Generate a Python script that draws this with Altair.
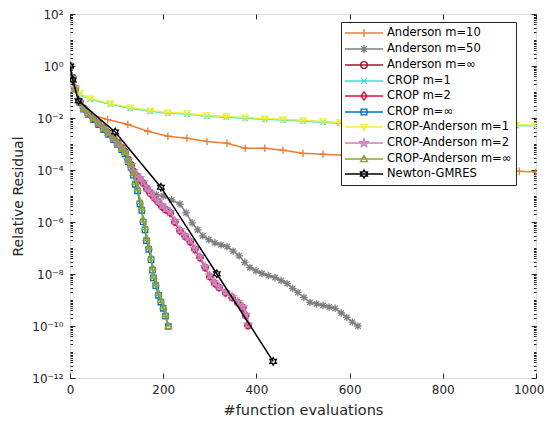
import altair as alt
import pandas as pd
import numpy as np

names = ["Anderson m=10", "Anderson m=50", "Anderson m=\u221e", "CROP m=1", "CROP m=2",
         "CROP m=\u221e", "CROP-Anderson m=1", "CROP-Anderson m=2", "CROP-Anderson m=\u221e",
         "Newton-GMRES"]
colors = ["#ED7D31", "#7F7F7F", "#A2142F", "#40E0D0", "#DC143C",
          "#0072BD", "#F2EE3A", "#C983C0", "#8CA33A", "#000000"]

# log10(relative residual)
and10_x = [0, 6, 12, 21, 30, 43, 81, 124, 167, 210, 251, 294, 337, 376, 418, 457, 500, 543,
           586, 628, 670, 712, 754, 796, 838, 880, 922, 964, 1000]
and10_e = [0, -0.5, -0.88, -1.37, -1.62, -1.86, -2.06, -2.25, -2.51, -2.70, -2.78, -2.90, -2.97,
           -3.16, -3.16, -3.24, -3.36, -3.39, -3.43, -3.50, -3.56, -3.63, -3.70, -3.78, -3.86,
           -3.93, -3.99, -4.05, -4.08]

and50_x = [0, 5, 11, 21, 29, 39, 50, 61, 72, 82, 93, 102, 111, 118, 125, 131, 136, 143, 150,
           157, 165, 172, 185, 200, 218, 236, 249, 262, 274, 285, 298, 311, 324, 337, 350, 363,
           375, 386, 399, 412, 426, 440, 453, 466, 478, 489, 502, 515, 529, 543, 556, 569, 582,
           594, 606, 618]
and50_e = [0, -0.45, -0.86, -1.37, -1.62, -1.81, -2.00, -2.20, -2.39, -2.57, -2.77, -2.95,
           -3.15, -3.30, -3.60, -3.80, -4.05, -4.23, -4.35, -4.50, -4.72, -4.85, -4.95, -5.00,
           -5.15, -5.31, -5.65, -6.03, -6.30, -6.53, -6.68, -6.80, -6.88, -6.95, -7.12, -7.30,
           -7.55, -7.75, -7.88, -7.98, -8.06, -8.14, -8.25, -8.37, -8.55, -8.71, -8.90, -9.09,
           -9.15, -9.21, -9.27, -9.32, -9.50, -9.67, -9.85, -10.0]

med_x = [0, 5, 11, 21, 29, 39, 50, 61, 72, 82, 93, 102, 111, 118, 125, 131, 136, 143, 150, 157,
         165, 172, 180, 189, 197, 205, 215, 225, 236, 247, 258, 268, 279, 290, 300, 310, 320,
         334, 348, 360, 371, 377, 382]
crop2_e = [0, -0.45, -0.86, -1.37, -1.62, -1.81, -2.00, -2.20, -2.39, -2.57, -2.77, -2.95,
           -3.15, -3.30, -3.60, -3.80, -4.05, -4.23, -4.35, -4.50, -4.72, -4.89, -5.05, -5.23,
           -5.40, -5.52, -5.65, -6.00, -6.34, -6.55, -6.76, -7.05, -7.37, -7.75, -8.10, -8.35,
           -8.52, -8.72, -8.90, -9.10, -9.29, -9.60, -9.98]
andinf_e = [0, -0.45, -0.86, -1.37, -1.62, -1.81, -2.00, -2.20, -2.39, -2.57, -2.77, -2.95,
            -3.15, -3.30, -3.60, -3.80, -4.05, -4.23, -4.35, -4.50, -4.72, -4.89, -5.05, -5.23,
            -5.40, -5.52, -5.65, -6.00, -6.34, -6.55, -6.76, -7.05, -7.37, -7.75, -8.10, -8.35,
            -8.52, -8.72, -8.90, -9.10, -9.29, -9.60, -9.98]
ca2_e = [0, -0.45, -0.86, -1.37, -1.62, -1.81, -2.00, -2.20, -2.39, -2.57, -2.77, -2.95,
         -3.15, -3.30, -3.60, -3.80, -4.05, -4.20, -4.31, -4.47, -4.70, -4.86, -5.02, -5.20,
         -5.36, -5.50, -5.62, -5.96, -6.30, -6.52, -6.72, -7.02, -7.33, -7.72, -8.06, -8.32,
         -8.50, -8.70, -8.88, -9.07, -9.26, -9.56, -9.94]

fast_x = [0, 5, 11, 21, 29, 39, 50, 61, 72, 82, 93, 102, 111, 118, 125, 131, 136, 140, 145,
          150, 154, 157, 161, 164, 169, 174, 177, 179, 184, 190, 195, 200, 205, 211]
cropinf_e = [0, -0.45, -0.88, -1.40, -1.66, -1.86, -2.06, -2.26, -2.45, -2.63, -2.83, -3.02,
             -3.22, -3.38, -3.68, -3.90, -4.20, -4.55, -4.80, -5.30, -5.55, -6.00, -6.30, -6.72,
             -7.05, -7.45, -7.85, -8.15, -8.45, -8.82, -9.08, -9.32, -9.62, -10.02]
cainf_e = [0, -0.45, -0.86, -1.37, -1.62, -1.81, -2.00, -2.20, -2.39, -2.57, -2.77, -2.95,
           -3.15, -3.30, -3.60, -3.80, -4.11, -4.45, -4.70, -5.19, -5.45, -5.90, -6.20, -6.61,
           -6.95, -7.36, -7.75, -8.06, -8.35, -8.73, -9.00, -9.25, -9.55, -10.0]

m1_x = [0, 6, 12, 21, 43, 86, 129, 172, 210, 251, 294, 335, 376, 418, 457, 500, 543, 579,
        621, 663, 705, 747, 789, 831, 873, 915, 957, 1000]
crop1_e = [0, -0.52, -0.9, -1.08, -1.28, -1.47, -1.63, -1.74, -1.82, -1.85, -1.93, -1.97,
           -2.01, -2.05, -2.08, -2.12, -2.16, -2.20, -2.21, -2.22, -2.23, -2.24, -2.25, -2.26,
           -2.27, -2.28, -2.29, -2.30]
ca1_e = [0, -0.5, -0.88, -1.05, -1.25, -1.44, -1.60, -1.71, -1.79, -1.82, -1.90, -1.94,
         -1.98, -2.02, -2.05, -2.09, -2.13, -2.17, -2.18, -2.19, -2.20, -2.21, -2.22, -2.23,
         -2.24, -2.25, -2.26, -2.28]

newton_x = [0, 6, 18, 97, 195, 315, 436]
newton_e = [0, -0.54, -1.34, -2.54, -4.66, -7.99, -11.36]

series_x = [and10_x, and50_x, med_x, m1_x, med_x, fast_x, m1_x, med_x, fast_x, newton_x]
series_e = [and10_e, and50_e, andinf_e, crop1_e, crop2_e, cropinf_e, ca1_e, ca2_e, cainf_e, newton_e]

x_ticks = [0, 200, 400, 600, 800, 1000]
y_ticks = [1e2, 1e0, 1e-2, 1e-4, 1e-6, 1e-8, 1e-10, 1e-12]
y_minor = [m * 10.0 ** k for k in range(-12, 2) for m in range(1, 10)]

W, H = 466, 364
FONT = "DejaVu Sans"
TXT = "#262626"


# ---------- marker paths ----------
def poly(pts, closed=False):
    s = "M" + "L".join(f"{x:.3f},{y:.3f}" for x, y in pts)
    return s + ("Z" if closed else "")


def star(n, ro, ri):
    pts = []
    for i in range(2 * n):
        a = -np.pi / 2 + i * np.pi / n
        r = ro if i % 2 == 0 else ri
        pts.append((r * np.cos(a), r * np.sin(a)))
    return poly(pts, True)


def circ(r):
    return f"M{r:.3f},0A{r:.3f},{r:.3f} 0 1,1 {-r:.3f},0A{r:.3f},{r:.3f} 0 1,1 {r:.3f},0Z"


def marker(kind, s):
    d = 0.72 * s
    if kind == "plus":
        return poly([(-s, 0), (s, 0)]) + poly([(0, -s), (0, s)])
    if kind == "asterisk":
        return (poly([(-s, 0), (s, 0)]) + poly([(0, -s), (0, s)]) +
                poly([(-d, -d), (d, d)]) + poly([(-d, d), (d, -d)]))
    if kind == "circle":
        return circ(0.85 * s)
    if kind == "x":
        return poly([(-d, -d), (d, d)]) + poly([(-d, d), (d, -d)])
    if kind == "diamond":
        return poly([(0, -s), (0.75 * s, 0), (0, s), (-0.75 * s, 0)], True)
    if kind == "square":
        return poly([(-d, -d), (d, -d), (d, d), (-d, d)], True)
    if kind == "tdown":
        return poly([(-0.85 * s, -0.65 * s), (0.85 * s, -0.65 * s), (0, 0.85 * s)], True)
    if kind == "tup":
        return poly([(-0.85 * s, 0.65 * s), (0.85 * s, 0.65 * s), (0, -0.85 * s)], True)
    if kind == "pent":
        return star(5, 1.05 * s, 0.42 * s)
    if kind == "hex":
        return star(6, 1.0 * s, 0.58 * s)


kinds = ["plus", "asterisk", "circle", "x", "diamond", "square", "tdown", "pent", "tup", "hex"]
LEG_SIZE = 144            # symbol box 12 px -> 1 unit = 6 px
half_line = 19 / 6
mk_leg = 4 / 6
legend_paths = [f"M{-half_line:.3f},0L{half_line:.3f},0" + marker(k, mk_leg) for k in kinds]

# ---------- data ----------
rows = []
for n, xs, es in zip(names, series_x, series_e):
    for xv, ev in zip(xs, es):
        rows.append({"series": n, "evals": xv, "res": 10.0 ** ev})
df = pd.DataFrame(rows)

xscale = alt.Scale(domain=[0, 1000], nice=False, zero=False)
yscale = alt.Scale(type="log", domain=[1e-12, 1e2], nice=False)

layers = []
for n, c, k in zip(names, colors, kinds):
    base = alt.Chart(df).transform_filter(alt.datum.series == n)
    enc = dict(x=alt.X("evals:Q", scale=xscale, axis=None),
               y=alt.Y("res:Q", scale=yscale, axis=None))
    layers.append(base.mark_line(color=c, strokeWidth=1.5, clip=True).encode(**enc))
    layers.append(base.mark_point(shape=marker(k, 1), size=56, filled=False, color=c,
                                  strokeWidth=1.3, opacity=1, clip=True).encode(**enc))

empty = alt.Chart(df).transform_filter("false")

# main axes with labels
y_label_expr = ("'10' + (round(log(datum.value)/LN10) < 0 ? '\u207b' : '') + "
                "replace(replace(replace(replace(replace(replace("
                "'' + abs(round(log(datum.value)/LN10)), '0', '\u2070'), '1', '\u00b9'), "
                "'2', '\u00b2'), '4', '\u2074'), '6', '\u2076'), '8', '\u2078')")
main_axes = empty.mark_point().encode(
    x=alt.X("evals:Q", scale=xscale, axis=alt.Axis(
        values=x_ticks, format="d", title="#function evaluations", ticks=False, domain=False,
        grid=False, labelPadding=6, labelFontSize=12, titleFontSize=14.5, titlePadding=8,
        labelFont=FONT, titleFont=FONT, labelColor=TXT, titleColor=TXT,
        titleFontWeight="normal", labelFlush=False,
        labelAlign={"condition": {"test": "datum.value == 1000", "value": "right"},
                    "value": "center"},
        labelOffset={"condition": {"test": "datum.value == 1000", "value": 8}, "value": 0})),
    y=alt.Y("res:Q", scale=yscale, axis=alt.Axis(
        values=y_ticks, labelExpr=y_label_expr, title="Relative Residual", ticks=False,
        domain=False, grid=False, labelPadding=7, labelFontSize=12, titleFontSize=14,
        titlePadding=6, labelFont=FONT, titleFont=FONT, labelColor=TXT, titleColor=TXT,
        titleFontWeight="normal", labelFlush=False)),
)


def tick_axis(orient, off, vals, size):
    return alt.Axis(orient=orient, offset=off, values=vals, labels=False, domain=False,
                    grid=False, tickSize=size, tickColor=TXT, tickWidth=1, title=None)


tick1 = empty.mark_point().encode(
    x=alt.X("evals:Q", scale=xscale, axis=tick_axis("top", -H, x_ticks, 5)),
    y=alt.Y("res:Q", scale=yscale, axis=tick_axis("right", -W, y_ticks, 5)))
tick2 = empty.mark_point().encode(
    x=alt.X("evals:Q", scale=xscale, axis=tick_axis("bottom", -H, x_ticks, 5)),
    y=alt.Y("res:Q", scale=yscale, axis=tick_axis("left", -W, y_ticks, 5)))
tick3 = empty.mark_point().encode(
    y=alt.Y("res:Q", scale=yscale, axis=tick_axis("right", -W, y_minor, 2.5)))
tick4 = empty.mark_point().encode(
    y=alt.Y("res:Q", scale=yscale, axis=tick_axis("left", -W, y_minor, 2.5)))

legend = alt.Legend(
    title=None, orient="none", legendX=271, legendY=8, symbolSize=LEG_SIZE,
    symbolStrokeWidth=1.4, symbolOpacity=1, symbolOffset=12, labelOffset=16,
    labelFont=FONT, labelFontSize=11.5, labelColor="#000000", labelLimit=300,
    strokeColor=TXT, fillColor="#ffffff", padding=4, rowPadding=2.0, cornerRadius=0)
legend_layer = empty.mark_point(filled=False, opacity=1).encode(
    x=alt.X("evals:Q", scale=xscale, axis=None),
    y=alt.Y("res:Q", scale=yscale, axis=None),
    color=alt.Color("series:N", scale=alt.Scale(domain=names, range=colors), legend=legend),
    shape=alt.Shape("series:N", scale=alt.Scale(domain=names, range=legend_paths),
                    legend=legend),
)

chart = alt.layer(*layers, main_axes, tick1, tick2, tick3, tick4, legend_layer).resolve_axis(
    x="independent", y="independent"
).properties(
    width=W, height=H,
    autosize=alt.AutoSizeParams(type="none"),
    padding={"left": 62, "top": 6, "right": 8, "bottom": 40},
).configure_view(stroke=TXT, strokeWidth=1).configure(background="#ffffff")

chart.save("out.html", embed_options={"renderer": "svg", "actions": False})
